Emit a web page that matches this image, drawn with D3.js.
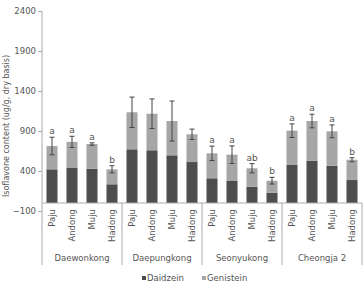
<!DOCTYPE html>
<html lang="en">
<head>
<meta charset="UTF-8">
<title>Isoflavone content</title>
<style>
  body { margin: 0; background: #fff; }
  text { font-family: "DejaVu Sans", sans-serif; fill: #555; }
</style>
</head>
<body>
<div id="chart"></div>
<script src="https://d3js.org/d3.v7.min.js"></script>
<script>
// data
const varieties = ["Daewonkong", "Daepungkong", "Seonyukong", "Cheongja 2"];
const regions = ["Paju", "Andong", "Muju", "Hadong"];
const daidzein = [
  421, 444, 429, 234,
  671, 659, 596, 512,
  309, 275, 204, 129,
  475, 529, 466, 287
];
const totals = [
  712, 764, 737, 421,
  1134, 1116, 1025, 859,
  621, 604, 434, 279,
  904, 1025, 896, 541
];
const errors = [
  110, 70, 15, 45,
  190, 185, 250, 65,
  90, 110, 58, 42,
  85, 85, 80, 25
];
const letters = [
  "a", "a", "a", "b",
  "", "", "", "",
  "a", "a", "ab", "b",
  "a", "a", "a", "b"
];
const yTicks = [-100, 400, 900, 1400, 1900, 2400];

const W = 363, H = 283;
const mLeft = 42, mRight = 362, mTop = 11, mBottom = 211;

const svg = d3.select("#chart").append("svg")
  .attr("width", W).attr("height", H);

const rows = [];
varieties.forEach((v, i) => regions.forEach((r, j) => {
  const k = i * 4 + j;
  rows.push({ key: v + "|" + r, variety: v, region: r,
    d: daidzein[k], t: totals[k], e: errors[k], lab: letters[k] });
}));

const x = d3.scaleBand().domain(rows.map(d => d.key))
  .range([mLeft, mRight]).paddingInner(0.45).paddingOuter(0.225);
const y = d3.scaleLinear().domain([-100, 2400]).range([mBottom, mTop]);

// y axis
const yAxis = svg.append("g").attr("transform", `translate(${mLeft},0)`)
  .call(d3.axisLeft(y).tickValues(yTicks).tickSize(4).tickSizeOuter(0)
    .tickFormat(d => d < 0 ? "\u2212" + Math.abs(d) : d));
yAxis.select(".domain").remove();
yAxis.selectAll("line").attr("stroke", "#aaa");
yAxis.selectAll("text").attr("font-size", 8.5).attr("x", -6).style("fill", "#555");

svg.append("line").attr("x1", mLeft).attr("x2", mLeft)
  .attr("y1", mTop).attr("y2", 265).attr("stroke", "#aaa");

svg.append("text")
  .attr("transform", `translate(9,${(mTop + mBottom) / 2 + 15}) rotate(-90)`)
  .attr("text-anchor", "middle").attr("font-size", 8)
  .text("Isoflavone content (ug/g, dry basis)");

// bars
svg.selectAll("rect.dz").data(rows).join("rect").attr("class", "dz")
  .attr("x", d => x(d.key)).attr("width", x.bandwidth())
  .attr("y", d => y(d.d)).attr("height", d => y(0) - y(d.d))
  .attr("fill", "#4d4d4d");
svg.selectAll("rect.gn").data(rows).join("rect").attr("class", "gn")
  .attr("x", d => x(d.key)).attr("width", x.bandwidth())
  .attr("y", d => y(d.t)).attr("height", d => y(d.d) - y(d.t))
  .attr("fill", "#a6a6a6");

// error bars
const eb = svg.selectAll("g.err").data(rows).join("g").attr("class", "err")
  .attr("stroke", "#444").attr("stroke-width", 1);
const cx = d => x(d.key) + x.bandwidth() / 2;
eb.append("line").attr("x1", cx).attr("x2", cx)
  .attr("y1", d => y(d.t + d.e)).attr("y2", d => y(d.t - d.e));
eb.append("line").attr("x1", d => cx(d) - 2.5).attr("x2", d => cx(d) + 2.5)
  .attr("y1", d => y(d.t + d.e)).attr("y2", d => y(d.t + d.e));
eb.append("line").attr("x1", d => cx(d) - 2.5).attr("x2", d => cx(d) + 2.5)
  .attr("y1", d => y(d.t - d.e)).attr("y2", d => y(d.t - d.e));

svg.selectAll("text.lab").data(rows.filter(d => d.lab)).join("text").attr("class", "lab")
  .attr("x", cx).attr("y", d => y(d.t + d.e) - 3)
  .attr("text-anchor", "middle").attr("font-size", 9).text(d => d.lab);

// category axis at zero
svg.append("line").attr("x1", mLeft).attr("x2", mRight)
  .attr("y1", y(0)).attr("y2", y(0)).attr("stroke", "#aaa");

svg.selectAll("text.reg").data(rows).join("text").attr("class", "reg")
  .attr("transform", d => `translate(${cx(d) + 3},${y(0) + 6}) rotate(-90)`)
  .attr("text-anchor", "end").attr("font-size", 8.5).text(d => d.region);

const groupW = (mRight - mLeft) / varieties.length;
varieties.forEach((v, i) => {
  const gx = mLeft + (i + 1) * groupW;
  svg.append("line").attr("x1", gx).attr("x2", gx)
    .attr("y1", y(0)).attr("y2", 265).attr("stroke", "#aaa");
  svg.append("text").attr("x", mLeft + (i + 0.5) * groupW).attr("y", 261)
    .attr("text-anchor", "middle").attr("font-size", 8.5).text(v);
});

// legend
const legend = [["Daidzein", "#4d4d4d", 142], ["Genistein", "#a6a6a6", 202]];
legend.forEach(([name, col, lx]) => {
  svg.append("rect").attr("x", lx).attr("y", 276).attr("width", 4).attr("height", 4).attr("fill", col);
  svg.append("text").attr("x", lx + 5).attr("y", 281).attr("font-size", 8.5).text(name);
});
</script>
</body>
</html>
